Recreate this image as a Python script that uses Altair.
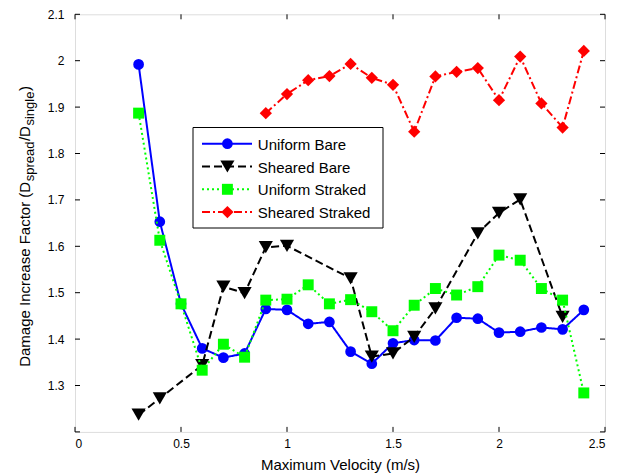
import altair as alt
import pandas as pd

# ---------------- data ----------------
vel_uniform = [0.3, 0.4, 0.5, 0.6, 0.7, 0.8, 0.9, 1.0, 1.1, 1.2, 1.3, 1.4, 1.5,
               1.6, 1.7, 1.8, 1.9, 2.0, 2.1, 2.2, 2.3, 2.4]
uniform_bare = [1.992, 1.653, 1.476, 1.380, 1.360, 1.369, 1.465, 1.463, 1.433, 1.437,
                1.373, 1.347, 1.391, 1.398, 1.397, 1.446, 1.444, 1.414, 1.416, 1.425,
                1.421, 1.463]
uniform_straked = [1.887, 1.613, 1.476, 1.333, 1.389, 1.361, 1.484, 1.486, 1.517, 1.476,
                   1.485, 1.459, 1.418, 1.473, 1.509, 1.495, 1.513, 1.581, 1.570, 1.509,
                   1.484, 1.284]
vel_sheared_bare = [0.3, 0.4, 0.6, 0.7, 0.8, 0.9, 1.0, 1.3, 1.4, 1.5, 1.6, 1.7, 1.9,
                    2.0, 2.1, 2.3]
sheared_bare = [1.237, 1.272, 1.344, 1.513, 1.499, 1.598, 1.601, 1.531, 1.362, 1.369,
                1.405, 1.466, 1.628, 1.672, 1.701, 1.448]
vel_sheared_straked = [0.9, 1.0, 1.1, 1.2, 1.3, 1.4, 1.5, 1.6, 1.7, 1.8, 1.9, 2.0, 2.1,
                       2.2, 2.3, 2.4]
sheared_straked = [1.887, 1.928, 1.958, 1.967, 1.993, 1.963, 1.948, 1.847, 1.966, 1.976,
                   1.984, 1.915, 2.009, 1.908, 1.856, 2.021]

series_names = ["Uniform Bare", "Sheared Bare", "Uniform Straked", "Sheared Straked"]
x_ticks = [0, 0.5, 1, 1.5, 2, 2.5]
y_ticks = [1.3, 1.4, 1.5, 1.6, 1.7, 1.8, 1.9, 2.0, 2.1]
y_tick_marks = [1.2, 1.3, 1.4, 1.5, 1.6, 1.7, 1.8, 1.9, 2.0, 2.1]
x_title = "Maximum Velocity (m/s)"
y_title_parts = ["Damage Increase Factor (D", "spread", "/D", "single", ")"]

# ---------------- styling ----------------
FONT = "Liberation Sans"
W, H = 530, 417.6
styles = {
    "Uniform Bare": dict(color="#0000FF", dash=[1, 0], shape="circle", size=115),
    "Sheared Bare": dict(color="#000000", dash=[8, 4], shape="triangle-down", size=200),
    "Uniform Straked": dict(color="#00FF00", dash=[2, 3], shape="square", size=120),
    "Sheared Straked": dict(color="#FF0000", dash=[8, 3, 2, 3], shape="diamond", size=150),
}
series_data = {
    "Uniform Bare": (vel_uniform, uniform_bare),
    "Sheared Bare": (vel_sheared_bare, sheared_bare),
    "Uniform Straked": (vel_uniform, uniform_straked),
    "Sheared Straked": (vel_sheared_straked, sheared_straked),
}

xs = alt.Scale(domain=[0, 2.5], nice=False, zero=False)
ys = alt.Scale(domain=[1.2, 2.1], nice=False, zero=False)
x_axis = alt.Axis(values=x_ticks, format=".1~f", grid=False, ticks=False, domain=False,
                  labelPadding=7, labelFont=FONT, labelFontSize=12, labelColor="black",
                  title=x_title, titleFont=FONT, titleFontSize=15, titleFontWeight="normal",
                  titleColor="black", titleBaseline="alphabetic", titleY=38)
y_axis = alt.Axis(values=y_ticks, format=".1~f", grid=False, ticks=False, domain=False,
                  labelPadding=11, labelFont=FONT, labelFontSize=12, labelColor="black",
                  title=None)

layers = []
for name in series_names:
    vx, vy = series_data[name]
    st = styles[name]
    df = pd.DataFrame({"v": vx, "d": vy})
    base = alt.Chart(df).encode(
        x=alt.X("v:Q", scale=xs, axis=x_axis),
        y=alt.Y("d:Q", scale=ys, axis=y_axis),
    )
    layers.append(base.mark_line(color=st["color"], strokeWidth=2, strokeDash=st["dash"]))
    layers.append(base.mark_point(shape=st["shape"], size=st["size"], filled=True,
                                  color=st["color"], opacity=1, strokeWidth=0))

# inward ticks on all four sides
xt = pd.DataFrame({"v": x_ticks})
yt = pd.DataFrame({"d": y_tick_marks})
for y0, y1 in [(H, H - 5), (0, 5)]:
    layers.append(alt.Chart(xt).mark_rule(color="black", strokeWidth=1).encode(
        x=alt.X("v:Q", scale=xs, axis=x_axis), y=alt.value(y0), y2=alt.value(y1)))
for x0, x1 in [(0, 5), (W - 5, W)]:
    layers.append(alt.Chart(yt).mark_rule(color="black", strokeWidth=1).encode(
        y=alt.Y("d:Q", scale=ys, axis=y_axis), x=alt.value(x0), x2=alt.value(x1)))

# legend box
one = pd.DataFrame({"a": [0]})
LX0, LX1, LY0, LY1 = 118, 308, 113.2, 213.7
layers.append(alt.Chart(one).mark_rect(fill="white", stroke="black", strokeWidth=1).encode(
    x=alt.value(LX0), x2=alt.value(LX1), y=alt.value(LY0), y2=alt.value(LY1)))
for i, name in enumerate(series_names):
    st = styles[name]
    ry = 129.4 + 22.8 * i
    layers.append(alt.Chart(one).mark_rule(color=st["color"], strokeWidth=2,
                                           strokeDash=st["dash"]).encode(
        x=alt.value(127), x2=alt.value(177), y=alt.value(ry)))
    layers.append(alt.Chart(one).mark_point(shape=st["shape"], size=st["size"], filled=True,
                                            color=st["color"], opacity=1, strokeWidth=0).encode(
        x=alt.value(152.4), y=alt.value(ry)))
    layers.append(alt.Chart(pd.DataFrame({"t": [name]})).mark_text(
        align="left", baseline="middle", font=FONT, fontSize=15, color="black").encode(
        x=alt.value(182.8), y=alt.value(ry + 1), text="t:N"))

# y-axis title with subscripts (rotated text pieces)
cw = {"D": 722, "a": 556, "m": 833, "g": 556, "e": 556, " ": 278, "I": 278, "n": 556,
      "c": 500, "r": 333, "s": 500, "F": 611, "t": 278, "o": 556, "(": 333, ")": 333,
      "p": 556, "d": 556, "/": 278, "i": 222, "l": 222}
sizes = [15, 13, 15, 13, 15]
shifts = [0, 4, 0, 4, 0]
GAP = 0.5
widths = [sum(cw.get(ch, 556) for ch in p) / 1000 * s for p, s in zip(y_title_parts, sizes)]
total = sum(widths) + GAP * (len(widths) - 1)
pos = 226.5 - 14.3 + total / 2
base_x = -45
for p, s, sh, w in zip(y_title_parts, sizes, shifts, widths):
    layers.append(alt.Chart(pd.DataFrame({"t": [p]})).mark_text(
        align="left", baseline="alphabetic", angle=270, font=FONT, fontSize=s,
        color="black").encode(x=alt.value(base_x + sh), y=alt.value(pos), text="t:N"))
    pos -= w + GAP

chart = alt.layer(*layers).properties(
    width=W, height=H,
    autosize=alt.AutoSizeParams(type="none"),
    padding={"left": 75, "top": 14.3, "right": 19, "bottom": 43.1},
).configure_view(stroke="black", strokeWidth=1).configure(background="white")

chart.save("out.html", embed_options={"renderer": "svg", "actions": False})
